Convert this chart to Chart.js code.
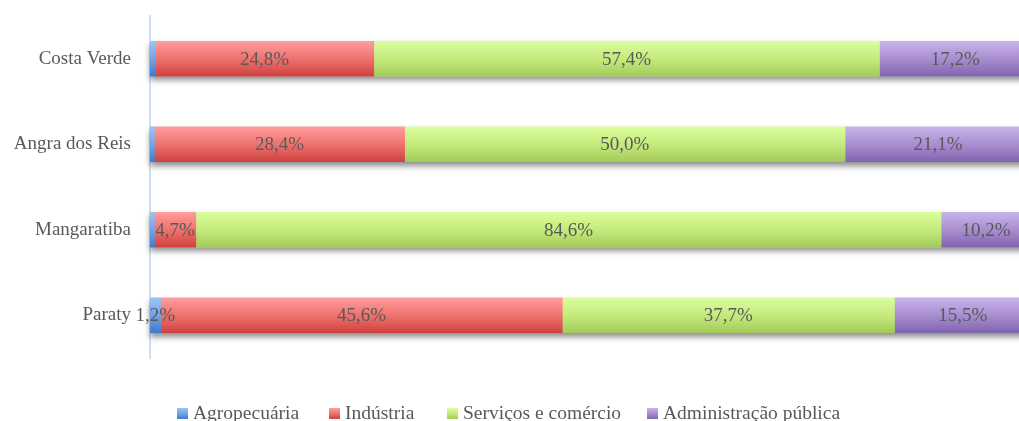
<!DOCTYPE html>
<html>
<head>
<meta charset="utf-8">
<script src="https://cdn.jsdelivr.net/npm/chart.js@4.4.1/dist/chart.umd.min.js"></script>
<style>
  html, body { margin: 0; padding: 0; background: #fff; overflow: hidden; }
  #wrap { width: 1019px; height: 421px; overflow: hidden; position: relative; }
  canvas { display: block; }
</style>
</head>
<body>
<div id="wrap"><canvas id="c" width="1032" height="421"></canvas></div>
<script>
const categories = ['Costa Verde', 'Angra dos Reis', 'Mangaratiba', 'Paraty'];
const seriesNames = ['Agropecuária', 'Indústria', 'Serviços e comércio', 'Administração pública'];
const agropecuaria = [0.6, 0.5, 0.5, 1.2];
const industria = [24.8, 28.4, 4.7, 45.6];
const servicos = [57.4, 50.0, 84.6, 37.7];
const administracao = [17.2, 21.1, 10.2, 15.5];

const FONT = '"Liberation Serif", "DejaVu Serif", serif';
const TEXT = '#595959';
const BAR_H = 35;
const gradStops = [
  ['#9DC3F6', '#6FA0E4', '#3D7BCB'],
  ['#FF9D9B', '#EC6E6B', '#CE413E'],
  ['#DBFE9C', '#C2E87B', '#A4CA58'],
  ['#C8B4EA', '#A68ACD', '#8164AF']
];
const legendBoxX = [177, 329, 447, 647];

function makeGrad(ctx, top, h, stops) {
  const g = ctx.createLinearGradient(0, top, 0, top + h);
  g.addColorStop(0, stops[0]);
  g.addColorStop(0.55, stops[1]);
  g.addColorStop(1, stops[2]);
  return g;
}

function barFill(i) {
  return function (c) {
    const chart = c.chart;
    const stops = gradStops[i];
    if (!chart.chartArea || c.type !== 'data' || !chart.scales.y) return stops[1];
    const y = chart.scales.y.getPixelForValue(c.dataIndex);
    return makeGrad(chart.ctx, y - BAR_H / 2, BAR_H, stops);
  };
}

const shadowPlugin = {
  id: 'barShadow',
  beforeDatasetsDraw(chart) {
    const { ctx, scales } = chart;
    ctx.save();
    ctx.shadowColor = 'rgba(0,0,0,0.45)';
    ctx.shadowBlur = 6;
    ctx.shadowOffsetY = 4;
    ctx.fillStyle = '#ffffff';
    categories.forEach((_, i) => {
      const y = scales.y.getPixelForValue(i);
      const x0 = scales.x.getPixelForValue(0);
      const x1 = scales.x.getPixelForValue(100);
      ctx.fillRect(x0, y - BAR_H / 2, x1 - x0, BAR_H);
    });
    ctx.restore();
  }
};

const labelPlugin = {
  id: 'valueLabels',
  afterDatasetsDraw(chart) {
    const { ctx } = chart;
    ctx.save();
    ctx.font = '19px ' + FONT;
    ctx.fillStyle = TEXT;
    ctx.textAlign = 'center';
    ctx.textBaseline = 'middle';
    chart.data.datasets.forEach((ds, di) => {
      const meta = chart.getDatasetMeta(di);
      meta.data.forEach((el, i) => {
        const v = ds.data[i];
        if (v < 1) return;
        const cx = (el.x + el.base) / 2;
        ctx.fillText(v.toFixed(1).replace('.', ',') + '%', cx, el.y + 1);
      });
    });
    ctx.restore();
  }
};

const legendPlugin = {
  id: 'customLegend',
  afterDraw(chart) {
    const { ctx } = chart;
    ctx.save();
    ctx.font = '19.5px ' + FONT;
    const box = 11, gap = 5;
    const baseline = 419;
    ctx.textBaseline = 'alphabetic';
    ctx.textAlign = 'left';
    seriesNames.forEach((n, i) => {
      const x = legendBoxX[i];
      ctx.fillStyle = makeGrad(ctx, 408, box, gradStops[i]);
      ctx.fillRect(x, 408, box, box);
      ctx.fillStyle = TEXT;
      ctx.fillText(n, x + box + gap, baseline);
    });
    ctx.restore();
  }
};

const seriesData = [agropecuaria, industria, servicos, administracao];

new Chart(document.getElementById('c'), {
  type: 'bar',
  data: {
    labels: categories,
    datasets: seriesData.map((d, i) => ({
      label: seriesNames[i],
      data: d,
      backgroundColor: barFill(i),
      borderWidth: 0,
      barThickness: BAR_H
    }))
  },
  options: {
    indexAxis: 'y',
    responsive: false,
    animation: false,
    layout: { padding: { top: 16, bottom: 63, left: 0, right: 1 } },
    scales: {
      x: { stacked: true, min: 0, max: 100, display: false },
      y: {
        stacked: true,
        grid: { display: false, drawTicks: true, tickLength: 15 },
        border: { display: true, color: '#CFDEF2', width: 2 },
        ticks: { font: { family: FONT, size: 19 }, color: TEXT, padding: 4 },
        afterFit(scale) { scale.width = 150; }
      }
    },
    plugins: {
      legend: { display: false },
      tooltip: { enabled: false }
    }
  },
  plugins: [shadowPlugin, labelPlugin, legendPlugin]
});
</script>
</body>
</html>
